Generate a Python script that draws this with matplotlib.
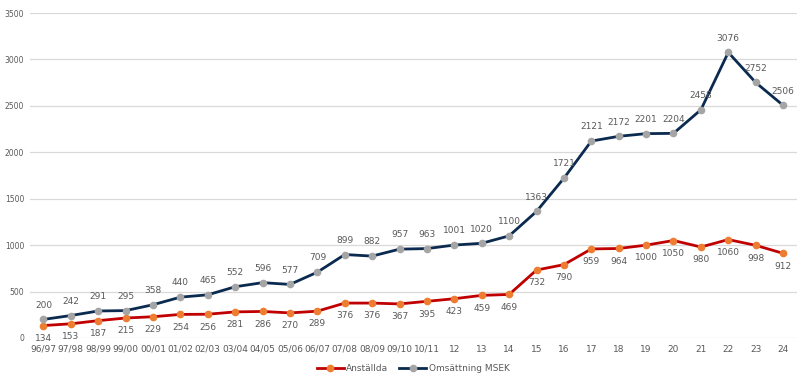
import matplotlib.pyplot as plt
import numpy as np

years = ['96/97', '97/98', '98/99', '99/00', '00/01', '01/02', '02/03', '03/04', '04/05',
         '05/06', '06/07', '07/08', '08/09', '09/10', '10/11', '12', '13', '14', '15', '16',
         '17', '18', '19', '20', '21', '22', '23', '24']
anstallda = [134, 153, 187, 215, 229, 254, 256, 281, 286, 270, 289, 376, 376, 367, 395, 423,
             459, 469, 732, 790, 959, 964, 1000, 1050, 980, 1060, 998, 912]
omsattning = [200, 242, 291, 295, 358, 440, 465, 552, 596, 577, 709, 899, 882, 957, 963, 1001,
              1020, 1100, 1363, 1721, 2121, 2172, 2201, 2204, 2458, 3076, 2752, 2506]

x = np.arange(len(years))

fig = plt.figure(figsize=(8.04, 3.83), dpi=100)
ax = fig.add_axes([0.037, 0.1175, 0.954, 0.8485])

ax.plot(x, anstallda, color='#C00000', lw=2.0, marker='o', ms=4.5,
        mfc='#ED7D31', mec='#ED7D31', label='Anställda', zorder=3)
ax.plot(x, omsattning, color='#0B2A4F', lw=2.0, marker='o', ms=4.5,
        mfc='#A5A5A5', mec='#A5A5A5', label='Omsättning MSEK', zorder=3)

for i in x:
    ax.annotate(str(omsattning[i]), (i, omsattning[i]), xytext=(0, 7),
                textcoords='offset points', ha='center', va='bottom',
                fontsize=6.5, color='#595959')
    ax.annotate(str(anstallda[i]), (i, anstallda[i]), xytext=(0, -6),
                textcoords='offset points', ha='center', va='top',
                fontsize=6.5, color='#595959')

ax.set_xlim(-0.5, len(years) - 0.5)
ax.set_ylim(0, 3500)
ax.set_yticks(np.arange(0, 3501, 500))
ax.set_xticks(x)
ax.set_xticklabels(years)
ax.tick_params(axis='x', length=0, labelsize=6.5, labelcolor='#595959', pad=5)
ax.tick_params(axis='y', length=0, labelsize=5.5, labelcolor='#595959', pad=4)
ax.grid(axis='y', color='#D9D9D9', lw=0.9)
ax.set_axisbelow(True)
for s in ax.spines.values():
    s.set_visible(False)

ax.legend(loc='upper center', bbox_to_anchor=(0.5, -0.055), ncol=2, frameon=False,
          fontsize=6.5, labelcolor='#595959', handlelength=3, columnspacing=1.2,
          handletextpad=0.3)

fig.savefig('out.png', dpi=100, facecolor='white')
